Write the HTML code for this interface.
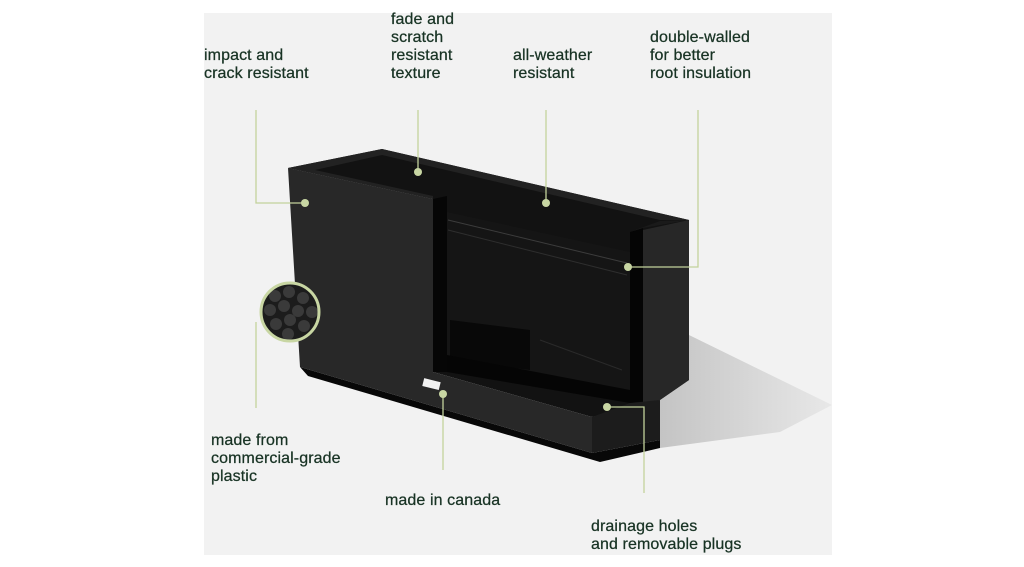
<!DOCTYPE html>
<html><head><meta charset="utf-8"><style>
html,body{margin:0;padding:0;background:#fff;}
body{width:1024px;height:567px;position:relative;overflow:hidden;font-family:"Liberation Sans",sans-serif;}
.panel{position:absolute;left:204px;top:13px;width:628px;height:542px;background:#f2f2f2;}
.t{position:absolute;color:#183324;font-size:16px;line-height:18px;white-space:nowrap;letter-spacing:0.1px;-webkit-text-stroke:0.25px #183324;}
svg{position:absolute;left:0;top:0;}
</style></head><body>
<div class="panel"></div>
<svg width="1024" height="567" viewBox="0 0 1024 567">
<defs>
<linearGradient id="sh" x1="0" y1="0" x2="1" y2="0"><stop offset="0" stop-color="#c4c4c4"/><stop offset="1" stop-color="#e8e8e8"/></linearGradient>
<clipPath id="cc"><circle cx="290" cy="312" r="28"/></clipPath>
</defs>
<!-- shadow -->
<polygon points="689,335 832,405 780,432 660,448 660,400 689,380" fill="url(#sh)"/>
<!-- plinth -->
<polygon points="300,367 592,453 660,440 660,448 600,462 308,376" fill="#080808"/>
<!-- inner body -->
<polygon points="288,168 382,149 689,220 689,380 660,400 592,417 433,372 433,199" fill="#121212"/>
<!-- interior back wall -->
<polygon points="447,212 630,252 630,403 447,372" fill="#151515"/>
<line x1="448" y1="220" x2="627" y2="263" stroke="#3c3c3c" stroke-width="1"/>
<line x1="448" y1="230" x2="627" y2="275" stroke="#2e2e2e" stroke-width="1"/>
<polygon points="450,320 530,330 530,370 450,360" fill="#080808"/>
<polygon points="447,355 630,390 630,403 447,372" fill="#050505"/>
<line x1="540" y1="340" x2="622" y2="370" stroke="#2a2a2a" stroke-width="1"/>
<!-- top rim -->
<polygon points="288,168 382,149 689,220 660,220 382,155 315,170 433,196 433,199" fill="#222"/>
<!-- right wall -->
<polygon points="643,230 689,220 689,380 660,400 643,404" fill="#272727"/>
<polygon points="630,232 643,228 643,404 630,403" fill="#050505"/>
<polygon points="630,232 660,221 689,220 643,228" fill="#1a1a1a"/>
<!-- left panel side thickness -->
<polygon points="433,199 447,196 447,372 433,372" fill="#060606"/>
<!-- front face -->
<polygon points="288,168 433,199 433,372 592,417 592,453 300,367" fill="#282828"/>
<!-- base right face -->
<polygon points="592,417 630,403 660,400 660,440 592,453" fill="#1c1c1c"/>
<rect x="423" y="380" width="17" height="8" fill="#f2f2f2" transform="rotate(14 431 384)"/>
<!-- texture circle -->
<g clip-path="url(#cc)"><rect x="260" y="282" width="60" height="60" fill="#1c1c1c"/>
<g fill="#3a3a3a">
<circle cx="275" cy="296" r="6"/><circle cx="289" cy="292" r="6"/><circle cx="303" cy="298" r="6"/>
<circle cx="270" cy="310" r="6"/><circle cx="284" cy="306" r="6"/><circle cx="298" cy="311" r="6"/><circle cx="312" cy="312" r="6"/>
<circle cx="276" cy="324" r="6"/><circle cx="290" cy="320" r="6"/><circle cx="304" cy="326" r="6"/><circle cx="288" cy="334" r="6"/></g></g>
<circle cx="290" cy="312" r="29" fill="none" stroke="#c8d6a3" stroke-width="3"/>
<!-- callout lines -->
<g stroke="#c3d29c" stroke-width="1.3" fill="none">
<polyline points="256,110 256,203 305,203"/>
<line x1="418" y1="110" x2="418" y2="172"/>
<line x1="546" y1="110" x2="546" y2="203"/>
<polyline points="698,110 698,267 628,267"/>
<line x1="256" y1="322" x2="256" y2="408"/>
<line x1="443" y1="394" x2="443" y2="470"/>
<polyline points="607,407 644,407 644,493"/>
</g>
<g fill="#c8d6a3">
<circle cx="305" cy="203" r="4"/><circle cx="418" cy="172" r="4"/><circle cx="546" cy="203" r="4"/>
<circle cx="628" cy="267" r="4"/><circle cx="443" cy="394" r="4"/><circle cx="607" cy="407" r="4"/>
</g>
</svg>
<div class="t" style="left:204px;top:47px">impact and<br>crack resistant</div>
<div class="t" style="left:391px;top:11px">fade and<br>scratch<br>resistant<br>texture</div>
<div class="t" style="left:513px;top:47px">all-weather<br>resistant</div>
<div class="t" style="left:650px;top:29px">double-walled<br>for better<br>root insulation</div>
<div class="t" style="left:211px;top:432px">made from<br>commercial-grade<br>plastic</div>
<div class="t" style="left:385px;top:492px">made in canada</div>
<div class="t" style="left:591px;top:518px">drainage holes<br>and removable plugs</div>
</body></html>
